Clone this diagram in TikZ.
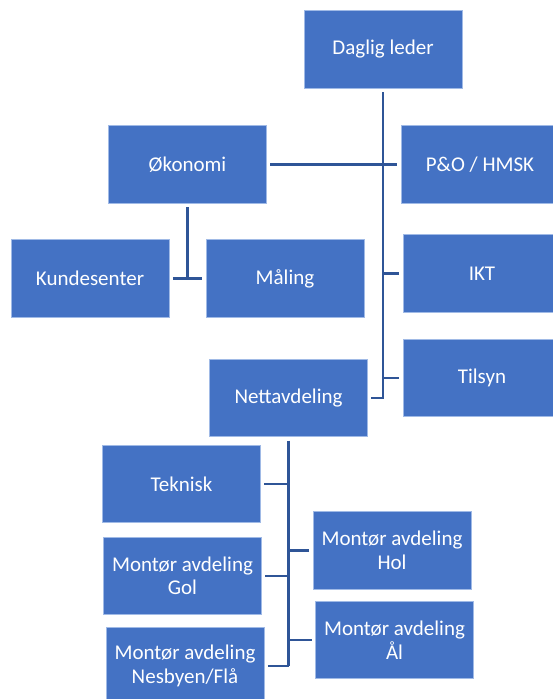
\documentclass[tikz,border=0pt]{standalone}
\usepackage{fontspec}
\setmainfont{Carlito}
\definecolor{boxblue}{RGB}{68,114,196}
\definecolor{boxedge}{RGB}{160,186,230}
\definecolor{lineblue}{RGB}{47,85,151}

\begin{document}
\begin{tikzpicture}[x=1pt, y=-1pt, minimum width=158pt, minimum height=77.5pt,
                    box/.style={rectangle, fill=boxblue, draw=boxedge, line width=0.6pt, inner sep=0pt,
                                align=center, text=white, font=\fontsize{21}{23.5}\selectfont},
                    link/.style={draw=lineblue, line width=2.2pt, shorten <=3.5pt}]
                \useasboundingbox (0,0) rectangle (553,699);
                \clip (0,0) rectangle (553,699);
                \node [box] (leder) at (383,49.5) {Daglig leder};
                \node [box] (okonomi) at (187.5,164.5) {Økonomi};
                \node [box] (po) at (480,164.5) {P\&O / HMSK};
                \node [box] (kunde) at (90,278.5) {Kundesenter};
                \node [box] (maling) at (285,278.5) {Måling};
                \node [box] (ikt) at (482,273.5) {IKT};
                \node [box] (tilsyn) at (482,378) {Tilsyn};
                \node [box] (nett) at (288.5,398) {Nettavdeling};
                \node [box] (teknisk) at (181.5,484) {Teknisk};
                \node [box] (gol) at (182.5,576) {Montør avdeling\\Gol};
                \node [box] (nesbyen) at (185,666) {Montør avdeling\\Nesbyen/Flå};
                \node [box] (hol) at (392,550.5) {Montør avdeling\\Hol};
                \node [box] (al) at (394.5,640) {Montør avdeling\\Ål};
                \draw [link, shorten >=3.5pt] (leder.south) |- (nett.east);
                \draw [link, shorten >=3.5pt] (okonomi.east) -- (po.west);
                \draw [link] (ikt.west) -- (ikt.west -| leder.south);
                \draw [link] (tilsyn.west) -- (tilsyn.west -| leder.south);
                \draw [link] (okonomi.south) -- (okonomi.south |- kunde.east);
                \draw [link, shorten >=3.5pt] (kunde.east) -- (maling.west);
                \draw [link] (nett.south) -- (nett.south |- nesbyen.east);
                \draw [link] (teknisk.east) -- (teknisk.east -| nett.south);
                \draw [link] (gol.east) -- (gol.east -| nett.south);
                \draw [link] (nesbyen.east) -- (nesbyen.east -| nett.south);
                \draw [link] (hol.west) -- (hol.west -| nett.south);
                \draw [link] (al.west) -- (al.west -| nett.south);
            \end{tikzpicture}
\end{document}
